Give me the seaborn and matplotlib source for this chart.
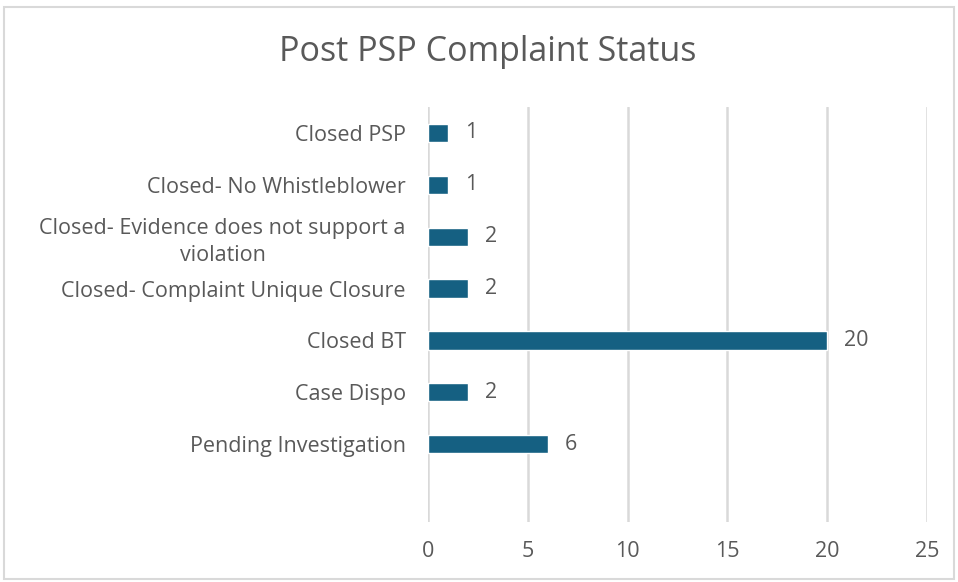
import matplotlib
matplotlib.use("Agg")
import matplotlib.pyplot as plt
import seaborn as sns
import pandas as pd
from matplotlib.patches import Rectangle

# data
statuses = [
    "Closed PSP",
    "Closed- No Whistleblower",
    "Closed- Evidence does not support a\nviolation",
    "Closed- Complaint Unique Closure",
    "Closed BT",
    "Case Dispo",
    "Pending Investigation",
]
counts = [1, 1, 2, 2, 20, 2, 6]
x_ticks = [0, 5, 10, 15, 20, 25]

df = pd.DataFrame({"status": statuses, "count": counts})

sns.set_theme(style="white")
plt.rcParams["font.family"] = ["Open Sans", "DejaVu Sans"]
grey = "#595959"

fig = plt.figure(figsize=(9.58, 5.82), dpi=100)
ax = fig.add_axes([0.4468, 0.1031, 0.5208, 0.7131])

sns.barplot(data=df, x="count", y="status", color="#156082", width=0.35,
            saturation=1, ax=ax, zorder=3)

ax.set_xlim(0, 25)
ax.set_ylim(7.5, -0.5)
ax.set_xticks(x_ticks)
ax.xaxis.grid(True, color="#d9d9d9", linewidth=1.8, zorder=0)
ax.yaxis.grid(False)
for s in ax.spines.values():
    s.set_visible(False)
ax.tick_params(axis="both", length=0, colors=grey, labelsize=15.5)
ax.tick_params(axis="x", pad=14)
ax.tick_params(axis="y", pad=16)
for lbl in ax.get_yticklabels():
    lbl.set_multialignment("center")
    lbl.set_linespacing(1.35)
ax.set_xlabel("")
ax.set_ylabel("")

for i, v in enumerate(counts):
    ax.annotate(str(v), (v, i), xytext=(12, 0), textcoords="offset points",
                va="center", ha="left", fontsize=15.5, color=grey)

fig.text(0.509, 0.91, "Post PSP Complaint Status", ha="center", va="center",
         fontsize=24.5, color=grey)

# light frame around the chart
fig.patches.append(Rectangle((0.004, 0.006), 0.992, 0.982, transform=fig.transFigure,
                             fill=False, edgecolor="#d9d9d9", linewidth=1.5))

fig.savefig("out.png", dpi=100)
